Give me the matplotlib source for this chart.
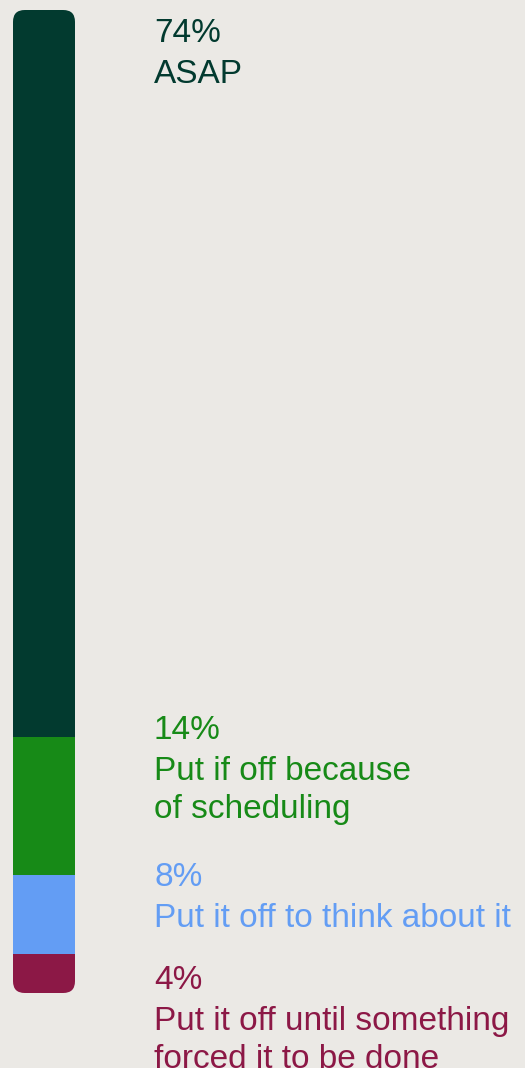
import matplotlib
matplotlib.use('Agg')
import matplotlib.pyplot as plt
from matplotlib.patches import FancyBboxPatch

# Data
pcts = [74, 14, 8, 4]
labels = ['ASAP',
          'Put if off because\nof scheduling',
          'Put it off to think about it',
          'Put it off until something\nforced it to be done']
colors = ['#023A2F', '#178A17', '#639DF4', '#8C1846']
bg = '#EBE9E5'

W, H = 525, 1068
fig = plt.figure(figsize=(W / 100, H / 100), dpi=100)
fig.patch.set_facecolor(bg)

# bar axes (pixel box: x 13-75, y 10-993)
ax = fig.add_axes([13 / W, (H - 993) / H, 62 / W, 983 / H])
ax.set_xlim(0, 1)
ax.set_ylim(sum(pcts), 0)
ax.axis('off')

# rounded outline used to clip the stacked segments
clip = FancyBboxPatch((0, 0), 1, 1, boxstyle='round,pad=0,rounding_size=0.19',
                      mutation_aspect=62 / 983, transform=ax.transAxes,
                      facecolor='none', edgecolor='none')
ax.add_patch(clip)

bottom = 0
for p, c in zip(pcts, colors):
    bars = ax.bar(0.5, p, bottom=bottom, width=1, color=c, linewidth=0)
    for b in bars:
        b.set_clip_path(clip)
    bottom += p

# labels: baseline of the percentage line, in pixels from top
baselines = [42, 739, 886, 989]
font = 'Liberation Sans'
fs = 24
for p, lab, c, yb in zip(pcts, labels, colors, baselines):
    fig.text(154 / W, 1 - yb / H, f'{p}%', color=c, fontsize=fs,
             family=font, va='baseline', ha='left')
    for i, line in enumerate(lab.split('\n')):
        fig.text(154 / W, 1 - (yb + 41 + 38 * i) / H, line, color=c,
                 fontsize=fs, family=font, va='baseline', ha='left')

fig.savefig('out.png', dpi=100, facecolor=bg)
